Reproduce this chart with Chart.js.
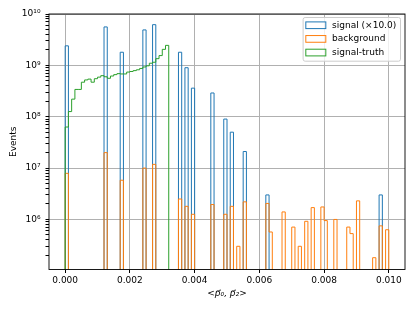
<!DOCTYPE html>
<html>
<head>
<meta charset="utf-8">
<script src="https://cdn.jsdelivr.net/npm/chart.js@4.4.1/dist/chart.umd.min.js"></script>
<style>
  html, body { margin: 0; padding: 0; background: #fff; }
  canvas { display: block; }
</style>
</head>
<body>
<canvas id="grafico" width="415" height="311"></canvas>
<script>
// histogram binning
const nBins = 100;
const xMin = 0;
const xMax = 0.01;

const xTicks = [0, 0.002, 0.004, 0.006, 0.008, 0.010];
const yTicks = [1e6, 1e7, 1e8, 1e9, 1e10];
const yLabels = ["10⁶", "10⁷", "10⁸", "10⁹", "10¹⁰"];

const labels = ["signal (×10.0)", "background", "signal-truth"];
const signalScale = 10.0;

// events per bin, signal before the x10 scaling
const signal = [
  2.4e8, 0, 0, 0, 0, 0, 0, 0, 0, 0,
  0, 0, 5.6e8, 0, 0, 0, 0, 1.8e8, 0, 0,
  0, 0, 0, 0, 4.9e8, 0, 0, 6.2e8, 0, 0,
  0, 0, 0, 0, 0, 1.8e8, 0, 9.0e7, 0, 3.6e7,
  0, 0, 0, 0, 0, 2.9e7, 0, 0, 0, 9.0e6,
  0, 5.0e6, 0, 0, 0, 2.1e6, 0, 0, 0, 0,
  0, 0, 3.0e5, 0, 0, 0, 0, 0, 0, 0,
  0, 0, 0, 0, 0, 0, 0, 0, 0, 0,
  0, 0, 0, 0, 0, 0, 0, 0, 0, 0,
  0, 0, 0, 0, 0, 0, 0, 3.0e5, 0, 0
];

const background = [
  7.9e6, 0, 0, 0, 0, 0, 0, 0, 0, 0,
  0, 0, 2.0e7, 0, 0, 0, 0, 5.8e6, 0, 0,
  0, 0, 0, 0, 1.0e7, 0, 0, 1.18e7, 0, 0,
  0, 0, 0, 0, 0, 2.5e6, 0, 1.8e6, 0, 1.26e6,
  0, 0, 0, 0, 0, 1.95e6, 0, 0, 0, 1.26e6,
  0, 1.8e6, 0, 3.0e5, 0, 2.2e6, 0, 0, 0, 0,
  0, 0, 2.05e6, 5.7e5, 0, 0, 0, 1.4e6, 0, 0,
  7.1e5, 0, 3.0e5, 0, 9.2e5, 0, 1.7e6, 0, 0, 1.75e6,
  9.5e5, 0, 0, 1.0e6, 0, 0, 0, 7.1e5, 5.3e5, 0,
  2.3e6, 0, 0, 0, 0, 1.8e5, 0, 7.5e5, 0, 6.3e5
];

// truth only fills the first 32 bins
const truth = [
  6.3e7, 1.26e8, 2.2e8, 3.4e8, 3.4e8, 4.7e8, 5.2e8, 5.4e8, 4.7e8, 5.5e8,
  5.9e8, 6.3e8, 6.0e8, 5.6e8, 6.2e8, 6.6e8, 6.9e8, 6.8e8, 6.8e8, 7.4e8,
  7.6e8, 7.9e8, 8.2e8, 8.7e8, 9.3e8, 9.8e8, 1.1e9, 1.15e9, 1.35e9, 1.55e9,
  2.05e9, 2.45e9
];

const binWidth = (xMax - xMin) / nBins;
const floorValue = 1e3; // empty bins drop below the axis

function histPoints(counts, scale) {
  const pts = [{ x: xMin, y: floorValue }];
  for (let i = 0; i < nBins; i++) {
    const c = (counts[i] || 0) * scale;
    pts.push({ x: xMin + i * binWidth, y: c > 0 ? c : floorValue });
  }
  pts.push({ x: xMax, y: floorValue });
  return pts;
}

function stepSet(label, counts, scale, color, order) {
  return {
    label: label,
    data: histPoints(counts, scale),
    borderColor: color,
    backgroundColor: "rgba(0,0,0,0)",
    borderWidth: 1,
    stepped: true,
    fill: false,
    pointRadius: 0,
    order: order
  };
}

/* frame around the plot */
const spines = {
  id: "spines",
  afterDatasetsDraw(chart) {
    const { ctx, chartArea: a } = chart;
    ctx.save();
    ctx.strokeStyle = "#000";
    ctx.lineWidth = 0.9;
    ctx.strokeRect(a.left, a.top, a.right - a.left, a.bottom - a.top);
    ctx.restore();
  }
};

/* legend box, upper right inside the axes */
const legendBox = {
  id: "legendBox",
  afterDraw(chart) {
    const { ctx, chartArea } = chart;
    const sets = chart.data.datasets;
    ctx.save();
    ctx.font = "9px 'DejaVu Sans'";
    const textW = Math.max(...sets.map(d => ctx.measureText(d.label).width));
    const w = 2.7 + 20 + 6.3 + textW + 4.3;
    const h = 43.7;
    const right = chartArea.right - 4.5;
    const top = chartArea.top + 3.5;
    const left = right - w;

    ctx.beginPath();
    ctx.roundRect(left, top, w, h, 2);
    ctx.fillStyle = "rgba(255,255,255,0.8)";
    ctx.fill();
    ctx.strokeStyle = "#cccccc";
    ctx.lineWidth = 1;
    ctx.stroke();

    sets.forEach((d, i) => {
      const y = top + 7.7 + i * 13.65;
      ctx.strokeStyle = d.borderColor;
      ctx.lineWidth = 1;
      ctx.strokeRect(left + 2.7, y - 3.3, 20, 6.7);
      ctx.fillStyle = "#000";
      ctx.textBaseline = "middle";
      ctx.textAlign = "left";
      ctx.fillText(d.label, left + 29, y);
    });
    ctx.restore();
  }
};

document.addEventListener("DOMContentLoaded", () => {
  Chart.defaults.font.family = "'DejaVu Sans'";
  Chart.defaults.font.size = 9;
  Chart.defaults.color = "#000";

  const grafico = document.getElementById("grafico");

  new Chart(grafico, {
    type: "line",
    data: {
      datasets: [
        stepSet(labels[0], signal, signalScale, "#1f77b4", 3),
        stepSet(labels[1], background, 1, "#ff7f0e", 2),
        stepSet(labels[2], truth, 1, "#2ca02c", 1)
      ]
    },
    options: {
      responsive: false,
      animation: false,
      devicePixelRatio: 1,
      layout: { padding: { left: 0, right: 10, top: 14, bottom: 0 } },
      plugins: { legend: { display: false }, tooltip: { enabled: false } },
      scales: {
        x: {
          type: "linear",
          min: -0.0005,
          max: 0.0105,
          afterBuildTicks: axis => {
            axis.ticks = xTicks.map(v => ({ value: v }));
          },
          afterFit: scale => { scale.height = 41.5; },
          ticks: {
            autoSkip: false,
            maxRotation: 0,
            padding: 2,
            callback: v => v.toFixed(3)
          },
          grid: { color: "#b0b0b0", lineWidth: 1, tickColor: "#000", tickLength: 3.5 },
          border: { display: false },
          title: {
            display: true,
            text: "<p\u20D7\u2080, p\u20D7\u2082>",
            font: { size: 9, style: "italic" },
            padding: { top: 0, bottom: 11.6 }
          }
        },
        y: {
          type: "logarithmic",
          min: 1.06e5,
          max: 1e10,
          afterBuildTicks: axis => {
            const t = [];
            for (let e = 5; e <= 9; e++) {
              for (let k = 1; k <= 9; k++) {
                const v = k * Math.pow(10, e);
                if (v >= 1.06e5) t.push({ value: v, major: k === 1 });
              }
            }
            t.push({ value: 1e10, major: true });
            axis.ticks = t;
          },
          afterFit: scale => { scale.width = 49; },
          ticks: {
            autoSkip: false,
            padding: 5,
            callback: (v, i, ticks) => {
              const idx = yTicks.findIndex(m => Math.abs(m - v) / m < 1e-6);
              return idx >= 0 ? yLabels[idx] : "";
            }
          },
          grid: {
            lineWidth: 1,
            tickLength: 3.5,
            tickColor: "#000",
            color: ctx => (ctx.tick && ctx.tick.major ? "#b0b0b0" : "rgba(0,0,0,0)")
          },
          border: { display: false },
          title: {
            display: true,
            text: "Events",
            font: { size: 9 },
            padding: { top: 8, bottom: 0 }
          }
        }
      }
    },
    plugins: [spines, legendBox]
  });
});
</script>
</body>
</html>
